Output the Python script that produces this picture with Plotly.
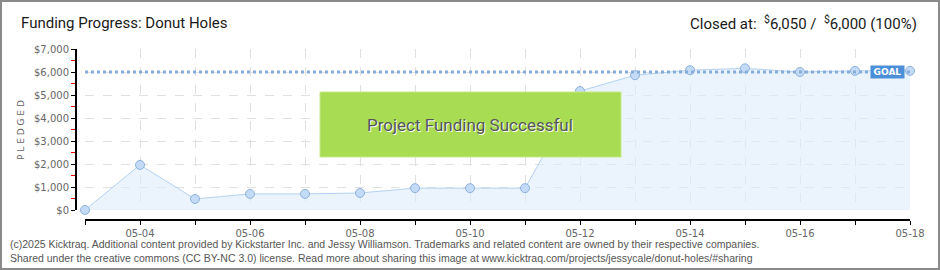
import plotly.graph_objects as go

# ---- data ----
dates = ["2025-05-03", "2025-05-04", "2025-05-05", "2025-05-06", "2025-05-07",
         "2025-05-08", "2025-05-09", "2025-05-10", "2025-05-11", "2025-05-12",
         "2025-05-13", "2025-05-14", "2025-05-15", "2025-05-16", "2025-05-17",
         "2025-05-18"]
pledged = [0, 1960, 480, 700, 700, 740, 950, 950, 950, 5170,
           5860, 6080, 6160, 6000, 6050, 6050]
goal = 6000
title_text = "Funding Progress: Donut Holes"
closed_text = "Closed at:  <sup>$</sup>6,050 /  <sup>$</sup>6,000 (100%)"
footer_1 = ("(c)2025 Kicktraq. Additional content provided by Kickstarter Inc. and Jessy Williamson. "
            "Trademarks and related content are owned by their respective companies.")
footer_2 = ("Shared under the creative commons (CC BY-NC 3.0) license. Read more about sharing this image at "
            "www.kicktraq.com/projects/jessycale/donut-holes/#sharing")

# ---- geometry helpers (pixel -> paper) ----
W, H = 940, 270
L, R, T, B = 76, 910, 49, 220


def px_x(px):
    return (px - L) / (R - L)


def px_y(py):
    return (B - py) / (B - T)


HEAD = "Roboto, Noto Sans, sans-serif"

fig = go.Figure()

fig.add_trace(go.Scatter(
    x=dates, y=pledged, mode="lines+markers",
    line=dict(color="#b3d1f2", width=1),
    fill="tozeroy", fillcolor="rgba(222,236,252,0.6)",
    marker=dict(size=9, color="#c3dbf6", line=dict(color="#8fb1da", width=1)),
    cliponaxis=False, hoverinfo="skip", showlegend=False,
))

grid = "#e0e0e0"
fig.update_layout(
    width=W, height=H,
    margin=dict(l=L, r=W - R, t=T, b=H - B),
    paper_bgcolor="white", plot_bgcolor="white",
    showlegend=False,
    xaxis=dict(
        type="date",
        range=["2025-05-03", "2025-05-18"],
        domain=[px_x(85), 1],
        anchor="free", position=0,
        showline=True, linecolor="black", linewidth=2,
        tickformat="%m-%d", dtick=2 * 86400000, tick0="2025-05-04",
        ticks="outside", ticklen=4, tickcolor="black",
        tickfont=dict(family="DejaVu Sans", size=10, color="#666"),
        showgrid=True, gridcolor=grid, griddash="dash", gridwidth=1,
        minor=dict(dtick=86400000, tick0="2025-05-03", ticks="outside", ticklen=4,
                   tickcolor="black", showgrid=True, gridcolor=grid, griddash="dash"),
        zeroline=False,
    ),
    yaxis=dict(
        range=[0, 7000],
        domain=[px_y(210), 1],
        anchor="free", position=0,
        showline=True, linecolor="black", linewidth=2,
        dtick=1000, tickprefix="$", tickformat=",d",
        ticks="outside", ticklen=4, tickcolor="black",
        tickfont=dict(family="DejaVu Sans", size=10, color="#666"),
        showgrid=True, gridcolor=grid, griddash="dash", gridwidth=1,
        minor=dict(dtick=500, ticks="outside", ticklen=4, tickcolor="red", showgrid=False),
        zeroline=False,
    ),
)

shapes = [
    # goal line
    dict(type="line", xref="x domain", yref="y", x0=0, x1=1, y0=goal, y1=goal,
         line=dict(color="#86acd9", width=3, dash="dot"), layer="above"),
    # success box
    dict(type="rect", xref="paper", yref="paper",
         x0=px_x(320), x1=px_x(621), y0=px_y(157), y1=px_y(92),
         fillcolor="#a8dc52", line=dict(color="#c6ea86", width=1), layer="above"),
    # outer border
    dict(type="rect", xref="paper", yref="paper",
         x0=px_x(1), x1=px_x(939), y0=px_y(269), y1=px_y(1),
         line=dict(color="#8a8a8a", width=2), fillcolor="rgba(0,0,0,0)", layer="above"),
]

annotations = [
    dict(text=title_text, xref="paper", yref="paper", x=px_x(19), y=px_y(23),
         xanchor="left", yanchor="middle", showarrow=False,
         font=dict(family=HEAD, size=15, color="#1a1a1a")),
    dict(text=closed_text, xref="paper", yref="paper", x=px_x(919), y=px_y(23),
         xanchor="right", yanchor="middle", showarrow=False,
         font=dict(family=HEAD, size=15, color="#1a1a1a")),
    dict(text="P L E D G E D", xref="paper", yref="paper", x=px_x(21), y=px_y(130),
         xanchor="center", yanchor="middle", textangle=-90, showarrow=False,
         font=dict(family="DejaVu Sans", size=9, color="#666")),
    dict(text="<b>GOAL</b>", xref="x", yref="y", x="2025-05-17 14:00", y=goal,
         xanchor="center", yanchor="middle", showarrow=False,
         bgcolor="#4a8fd8", borderpad=1, width=31,
         font=dict(family="DejaVu Sans", size=9, color="white")),
    dict(text="Project Funding Successful", xref="paper", yref="paper",
         x=px_x(470), y=px_y(125), xanchor="center", yanchor="middle", showarrow=False,
         font=dict(family=HEAD, size=17, color="#555", shadow="1px 1px 0px white")),
    dict(text=footer_1, xref="paper", yref="paper", x=px_x(8), y=px_y(244),
         xanchor="left", yanchor="middle", showarrow=False,
         font=dict(family="Liberation Sans, Arial, sans-serif", size=10.5, color="#555")),
    dict(text=footer_2, xref="paper", yref="paper", x=px_x(8), y=px_y(258),
         xanchor="left", yanchor="middle", showarrow=False,
         font=dict(family="Liberation Sans, Arial, sans-serif", size=10.5, color="#555")),
]

fig.update_layout(shapes=shapes, annotations=annotations)
fig.write_html("out.html")
